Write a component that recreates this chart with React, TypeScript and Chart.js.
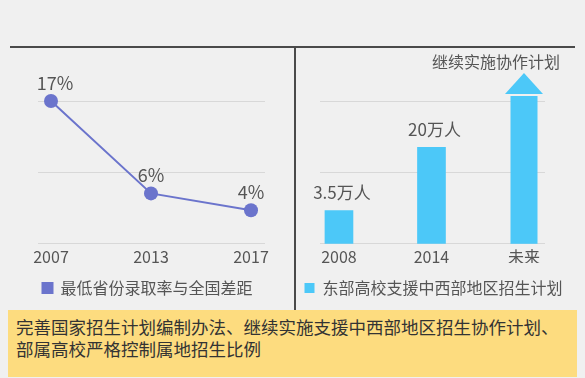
import React, { useEffect, useRef } from "react";
import { Chart, registerables } from "chart.js";

Chart.register(...registerables);

const FONT = '"Noto Sans CJK SC", "Noto Sans", sans-serif';

// Left chart data
const lineYears = ["2007", "2013", "2017"];
const lineValues = [17, 6, 4];
const lineLabels = ["17%", "6%", "4%"];
const lineSeriesName = "最低省份录取率与全国差距";
const lineGridTicks = [0, 8.5, 17];

// Right chart data
const barCategories = ["2008", "2014", "未来"];
const barValues: (number | null)[] = [3.5, 20, null];
const barLabels = ["3.5万人", "20万人", ""];
const barSeriesName = "东部高校支援中西部地区招生计划";
const barGridTicks = [1.4, 10, 71.4];
const futureText = "继续实施协作计划";

const bottomNote =
  "完善国家招生计划编制办法、继续实施支援中西部地区招生协作计划、部属高校严格控制属地招生比例";

const TEXT = "#555555";
const GRID = "#d8d8d8";
const PURPLE = "#6b74cc";
const BLUE = "#4cc8f8";

const legendOpts = {
  position: "bottom",
  labels: {
    boxWidth: 10,
    boxHeight: 10,
    padding: 17,
    color: TEXT,
    font: { size: 16, family: FONT },
  },
};

const sideAxis = (width: number, position: string) => ({
  position,
  display: true,
  afterFit: (s: any) => {
    s.width = width;
  },
  ticks: { display: false },
  grid: { display: false, drawTicks: false },
  border: { display: false },
});

function LineChart() {
  const ref = useRef<HTMLCanvasElement>(null);
  useEffect(() => {
    const labelPlugin = {
      id: "lineLabels",
      afterDatasetsDraw(chart: any) {
        const ctx = chart.ctx;
        const meta = chart.getDatasetMeta(0);
        ctx.save();
        ctx.font = `18px ${FONT}`;
        ctx.fillStyle = TEXT;
        ctx.textAlign = "center";
        ctx.textBaseline = "bottom";
        meta.data.forEach((el: any, i: number) => {
          ctx.fillText(lineLabels[i], el.x + (i === 0 ? 4 : 0), el.y - 9);
        });
        ctx.restore();
      },
    };
    const chart = new Chart(ref.current!, {
      type: "line",
      data: {
        datasets: [
          {
            label: lineSeriesName,
            data: lineValues.map((v, i) => ({ x: i, y: v })),
            borderColor: PURPLE,
            backgroundColor: PURPLE,
            borderWidth: 2,
            pointRadius: 7,
            pointBackgroundColor: PURPLE,
            pointBorderWidth: 0,
            clip: false as any,
            yAxisID: "y",
          },
        ],
      },
      options: {
        animation: false,
        responsive: false,
        devicePixelRatio: 1,
        layout: { padding: { left: 0, right: 0, top: 101, bottom: 5 } },
        plugins: {
          legend: legendOpts,
          tooltip: { enabled: false },
        },
        scales: {
          x: {
            type: "linear",
            min: -0.13,
            max: 2.14,
            afterBuildTicks: (s: any) => {
              s.ticks = lineYears.map((_, i) => ({ value: i }));
            },
            ticks: {
              padding: -4,
              color: TEXT,
              font: { size: 16, family: FONT },
              callback: (v: any) => lineYears[v] ?? "",
            },
            grid: { display: false },
            border: { display: false },
          },
          y: {
            min: 0,
            max: 17,
            afterFit: (s: any) => {
              s.width = 38;
            },
            afterBuildTicks: (s: any) => {
              s.ticks = lineGridTicks.map((v) => ({ value: v }));
            },
            ticks: { display: false },
            grid: { color: GRID, drawTicks: false },
            border: { display: false },
          },
          yr: sideAxis(30, "right"),
        },
      },
      plugins: [labelPlugin],
    } as any);
    return () => chart.destroy();
  }, []);
  return (
    <canvas
      ref={ref}
      width={295}
      height={311}
      style={{ position: "absolute", left: 0, top: 0, width: 295, height: 311 }}
    />
  );
}

function BarChart() {
  const ref = useRef<HTMLCanvasElement>(null);
  useEffect(() => {
    const plugin = {
      id: "barExtras",
      afterDatasetsDraw(chart: any) {
        const ctx = chart.ctx;
        const meta = chart.getDatasetMeta(0);
        const xs = chart.scales.x;
        const ys = chart.scales.y;
        ctx.save();
        ctx.font = `17px ${FONT}`;
        ctx.fillStyle = TEXT;
        ctx.textAlign = "center";
        ctx.textBaseline = "bottom";
        meta.data.forEach((el: any, i: number) => {
          if (barValues[i] == null) return;
          ctx.fillText(barLabels[i], el.x + 3, el.y - 9);
        });
        // future arrow (no value: continues beyond the top of the scale)
        const fi = barValues.findIndex((v) => v == null);
        const ax = xs.getPixelForValue(fi);
        const bottom = ys.bottom;
        const top = ys.top;
        const half = 13.5;
        ctx.fillStyle = BLUE;
        ctx.fillRect(ax - half, top - 5, half * 2, bottom - top + 5);
        ctx.beginPath();
        ctx.moveTo(ax, top - 28);
        ctx.lineTo(ax + 19, top - 7);
        ctx.lineTo(ax - 19, top - 7);
        ctx.closePath();
        ctx.fill();
        ctx.font = `16px ${FONT}`;
        ctx.fillStyle = TEXT;
        ctx.textAlign = "right";
        ctx.textBaseline = "alphabetic";
        ctx.fillText(futureText, ax + 36, top - 33);
        ctx.restore();
      },
    };
    const chart = new Chart(ref.current!, {
      type: "bar",
      data: {
        datasets: [
          {
            label: barSeriesName,
            data: barValues.map((v, i) => ({ x: i, y: v })),
            backgroundColor: BLUE,
            borderWidth: 0,
            barThickness: 28,
            yAxisID: "y",
          },
        ],
      },
      options: {
        animation: false,
        responsive: false,
        devicePixelRatio: 1,
        layout: { padding: { left: 0, right: 0, top: 101, bottom: 5 } },
        plugins: {
          legend: legendOpts,
          tooltip: { enabled: false },
        },
        scales: {
          x: {
            type: "linear",
            offset: false,
            min: -0.205,
            max: 2.227,
            afterBuildTicks: (s: any) => {
              s.ticks = barCategories.map((_, i) => ({ value: i }));
            },
            ticks: {
              padding: -4,
              color: TEXT,
              font: { size: 16, family: FONT },
              callback: (v: any) => barCategories[v] ?? "",
            },
            grid: { display: false, offset: false },
            border: { display: false },
          },
          y: {
            type: "logarithmic",
            min: 1.4,
            max: 71.4,
            afterFit: (s: any) => {
              s.width = 25;
            },
            afterBuildTicks: (s: any) => {
              s.ticks = barGridTicks.map((v) => ({ value: v }));
            },
            ticks: { display: false },
            grid: { color: GRID, drawTicks: false },
            border: { display: false },
          },
          yr: sideAxis(27, "right"),
        },
      },
      plugins: [plugin],
    } as any);
    return () => chart.destroy();
  }, []);
  return (
    <canvas
      ref={ref}
      width={277}
      height={311}
      style={{ position: "absolute", left: 295, top: 0, width: 277, height: 311 }}
    />
  );
}

export default function App() {
  return (
    <div
      style={{
        position: "fixed",
        left: 0,
        top: 0,
        width: 585,
        height: 378,
        background: "#f0f0f0",
        overflow: "hidden",
        fontFamily: FONT,
      }}
    >
      <div style={{ position: "absolute", left: 10, top: 46, width: 565, height: 2, background: "#4a4a4a" }} />
      <div style={{ position: "absolute", left: 294, top: 46, width: 2, height: 266, background: "#4a4a4a" }} />
      <LineChart />
      <BarChart />
      <div
        style={{
          position: "absolute",
          left: 8,
          top: 310,
          width: 569,
          height: 67,
          background: "#fddc7f",
          boxSizing: "border-box",
          padding: "6px 8px",
          color: "#333333",
          fontSize: 17.5,
          lineHeight: "22px",
        }}
      >
        {bottomNote}
      </div>
    </div>
  );
}
